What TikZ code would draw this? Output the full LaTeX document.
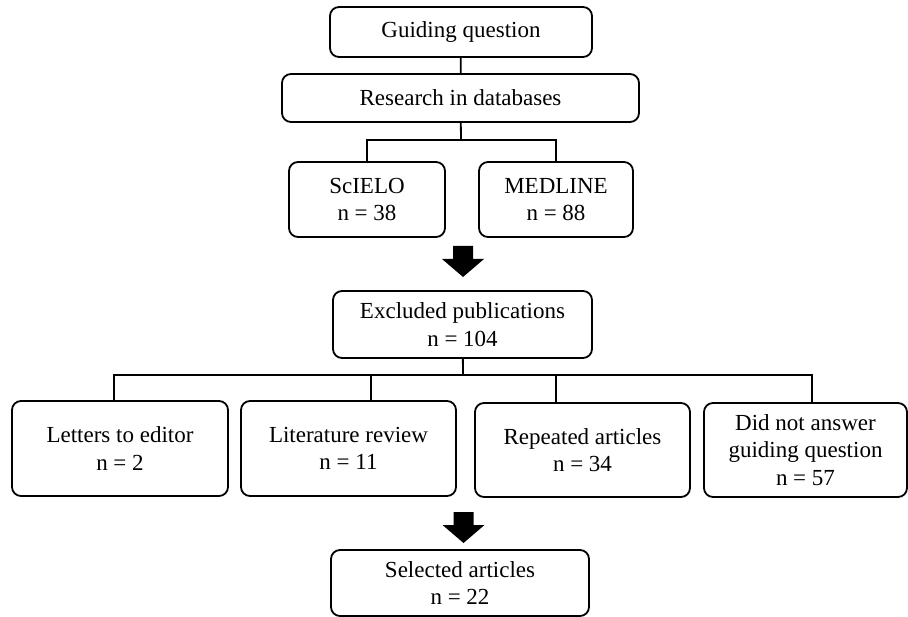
\documentclass[tikz,border=0pt]{standalone}
\usepackage{fontspec}
\setmainfont{Liberation Serif}
\usepackage{tikz}
\usetikzlibrary{calc,positioning}

\newcommand{\blockdown}[1]{\fill (#1) ++(-10,0) -- ++(20,0) -- ++(0,13) -- ++(11,0) -- ++(-21,18) -- ++(-21,-18) -- ++(11,0) -- cycle;}

\begin{document}
\begin{tikzpicture}[x=1pt,y=-1pt]
\tikzset{box/.style = {shape=rectangle,draw,rounded corners=9pt,line width=1.8pt,align=center,inner sep=0pt,font=\fontsize{23}{27.5}\selectfont}}
\tikzset{link/.style = {line width=1.8pt}}
\useasboundingbox (0,0) rectangle (908,617);
\node[box,minimum width=262,minimum height=50] (guide) at (461,32) {Guiding question};
\node[box,minimum width=357,minimum height=48] (research) at (460.5,98) {Research in databases};
\node[box,minimum width=156,minimum height=75] (scielo) at (367,199.5) {ScIELO\\n = 38};
\node[box,minimum width=154,minimum height=75] (medline) at (556,199.5) {MEDLINE\\n = 88};
\node[box,minimum width=259,minimum height=67] (excluded) at (462.5,324.5) {Excluded publications\\n = 104};
\node[box,minimum width=216,minimum height=95] (letters) at (120,448.5) {Letters to editor\\n = 2};
\node[box,minimum width=215,minimum height=95] (litrev) at (348.5,448.5) {Literature review\\n = 11};
\node[box,minimum width=215,minimum height=94] (repeated) at (582.5,450) {Repeated articles\\n = 34};
\node[box,minimum width=203,minimum height=94] (notanswer) at (805.5,450) {Did not answer\\guiding question\\n = 57};
\node[box,minimum width=258,minimum height=66] (selected) at (460,583) {Selected articles\\n = 22};
% branch points
\coordinate (split1) at (461,140);
\coordinate (split2) at (463,375);
\coordinate (drop1) at (114,375);
\coordinate (drop2) at (371,375);
\coordinate (drop3) at (556,375);
\coordinate (drop4) at (812,375);
\coordinate (arr1) at (463,246);
\coordinate (arr2) at (463.5,512);
\draw[link] (guide) -- (research);
\draw[link] (research) -- (split1);
\draw[link] (scielo.north) |- (split1) -| (medline.north);
\draw[link] (excluded) -- (split2);
\draw[link] (drop1 |- letters.north) -- (drop1) -- (drop4) -- (drop4 |- notanswer.north);
\draw[link] (drop2) -- (drop2 |- litrev.north);
\draw[link] (drop3) -- (drop3 |- repeated.north);
\blockdown{arr1}
\blockdown{arr2}
\end{tikzpicture}
\end{document}
